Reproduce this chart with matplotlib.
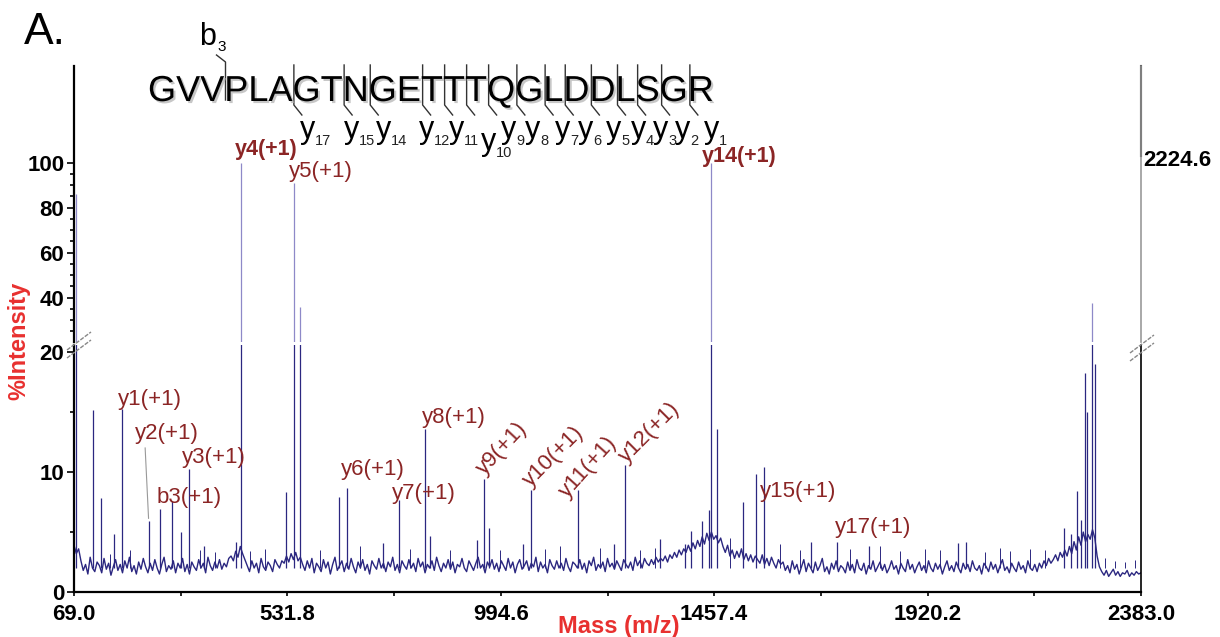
import matplotlib
matplotlib.use('Agg')
import matplotlib.pyplot as plt
import matplotlib.patheffects as pe
import numpy as np
from matplotlib.lines import Line2D
from matplotlib.transforms import blended_transform_factory
from matplotlib.font_manager import FontProperties

plt.rcParams['font.family'] = 'Liberation Sans'

# main peaks (m/z, % intensity)
peak_mz = [73.3, 109.6, 126.9, 155.7, 173.1, 231.0, 255.5, 280.9, 301.1, 317.8,
           350.9, 420.3, 431.2, 528.8, 546.8, 559.1, 644.4, 660.4, 739.8, 774.5,
           830.9, 841.1, 942.3, 958.8, 969.7, 1041.9, 1060.7, 1162.0, 1240.1, 1264.0,
           1339.9, 1394.1, 1406.5, 1431.6, 1445.5, 1449.4, 1464.1, 1519.2, 1548.1, 1565.4,
           1666.8, 1723.1, 1793.8, 1986.8, 2003.5, 2216.0, 2231.2, 2243.6, 2253.0, 2261.6,
           2264.9, 2276.2, 2283.4]
peak_int = [86.0, 15.2, 7.8, 4.8, 15.3, 5.9, 6.9, 7.6, 5.0, 10.3,
            3.8, 4.2, 100.0, 8.3, 91.0, 36.0, 7.9, 8.7, 4.1, 7.7,
            13.6, 4.7, 4.3, 9.4, 5.3, 4.0, 8.5, 8.5, 4.0, 10.6,
            4.4, 4.0, 5.1, 5.9, 6.8, 100.0, 13.6, 7.5, 9.8, 10.4,
            4.2, 4.2, 3.8, 4.1, 4.2, 5.3, 4.8, 8.4, 6.0, 18.3,
            15.0, 37.6, 19.0]

# small noise spikes
spike_mz = [147.1, 190.4, 342.3, 374.8, 450.7, 483.2, 602.5, 689.2, 797.7, 884.4,
            992.9, 1090.5, 1123.0, 1209.8, 1296.5, 1329.0, 1491.7, 1600.1, 1643.5, 1751.9,
            1817.0, 1860.4, 1914.6, 1947.1, 2044.7, 2077.3, 2099.0, 2142.3, 2174.9, 2305.0,
            2326.7, 2348.4, 2370.1]
spike_int = [3.2, 3.5, 3.5, 3.3, 3.4, 3.6, 3.5, 3.8, 3.6, 3.5,
             3.5, 3.6, 3.8, 3.7, 3.5, 3.7, 4.5, 4.0, 3.5, 3.6,
             3.8, 3.4, 3.6, 3.5, 3.3, 3.7, 3.4, 3.6, 3.5, 2.8,
             2.6, 2.5, 2.7]

# baseline level, read every ~5 m/z from 69 to 2383
base_int = [3.9, 3.2, 3.6,
            2.6, 1.8, 2.3, 1.5, 2.9, 2.0, 1.7, 2.5, 2.2, 1.6,
            2.8, 1.9, 2.4, 1.4, 2.1, 2.7, 1.8, 2.3, 1.6, 2.6,
            2.0, 2.9, 1.7, 2.2, 1.5, 2.5, 1.9, 2.8, 2.1, 1.6,
            2.4, 1.8, 2.7, 2.0, 1.5, 2.3, 2.9, 1.7, 2.2, 1.9,
            2.6, 1.6, 2.4, 2.0, 2.8, 1.7, 2.3, 1.5, 2.5, 2.1,
            1.8, 2.7, 2.0, 2.4, 1.6, 2.9, 2.2, 1.8, 2.5, 2.0,
            2.7, 1.9, 2.4, 2.1, 2.8,
            3.0, 2.6, 3.4, 2.9, 3.8, 3.2, 2.7,
            2.2, 1.7, 2.6, 2.0, 2.4, 1.6, 2.8, 2.1, 1.8, 2.5,
            2.2, 1.7, 2.7, 2.3, 2.0, 2.6, 2.4,
            3.0, 2.5, 3.2, 2.7, 3.3, 2.6, 2.9,
            2.3, 1.8, 2.6, 2.0, 2.8, 1.6, 2.4, 2.1, 1.7, 2.7,
            2.0, 2.5, 1.5, 2.3, 2.9, 1.8, 2.2, 2.6, 1.7, 2.4,
            1.9, 2.8, 2.1, 1.6, 2.5, 2.0, 2.7, 1.8, 2.3, 1.5,
            2.6, 2.2, 1.9, 2.8, 2.0, 2.4, 1.7, 2.5, 2.1, 2.9,
            1.8, 2.3, 1.6, 2.6, 2.2, 1.9, 2.7, 2.0, 2.4, 1.7,
            2.8, 2.1, 2.5, 1.6, 2.3, 2.0, 2.6, 1.8, 2.9, 2.2,
            1.7, 2.4, 2.0, 2.7, 1.9, 2.5, 1.6, 2.3, 2.1, 2.8,
            2.0, 1.7, 2.6, 2.2, 1.8, 2.4, 2.9, 2.0, 2.3, 1.6,
            2.5, 2.1, 2.7, 1.9, 2.4, 1.7, 2.6, 2.2, 1.8, 2.8,
            2.0, 2.5, 1.6, 2.3, 2.7, 1.9, 2.2, 2.6, 1.8, 2.4,
            2.1, 2.9, 1.7, 2.5, 2.0, 2.3, 1.6, 2.7, 2.2, 1.9,
            2.6, 2.0, 2.4, 1.8, 2.8, 2.1, 1.7, 2.5, 2.3, 2.0,
            2.7, 1.9, 2.4, 1.6, 2.6, 2.2, 2.9, 1.8, 2.3, 2.0,
            2.5, 1.7, 2.8, 2.1, 2.4, 1.9, 2.6, 2.2, 1.8, 2.7,
            2.3, 2.0, 2.5, 1.8, 2.9, 2.2, 2.6, 2.0, 2.8, 2.4,
            2.2, 2.7, 2.3, 2.9, 2.5, 2.8,
            2.6, 3.0, 2.5, 3.1, 2.8, 3.3, 2.9, 3.5, 3.1, 3.6,
            3.3, 3.9, 3.4, 4.1, 3.6, 4.3, 3.8,
            4.6, 4.0, 4.9, 4.3, 5.0, 4.4, 4.7, 4.1, 4.5,
            3.8, 3.3, 3.9, 3.0, 3.5, 2.8, 3.4, 2.9, 3.6, 2.7,
            3.2, 2.6, 3.1, 2.5, 3.0, 2.7, 2.4, 3.1, 2.3, 2.8,
            2.2, 2.9, 2.4, 2.0, 2.7, 2.3,
            2.5, 1.8, 2.2, 1.6, 2.6, 1.9, 2.3, 1.5, 2.1, 2.7,
            1.7, 2.4, 2.0, 1.6, 2.5, 1.8, 2.2, 2.8, 1.7, 2.1,
            1.5, 2.4, 1.9, 2.6, 1.7, 2.2, 2.0, 1.6, 2.5, 1.8,
            2.3, 1.6, 2.7, 2.0, 1.8, 2.4, 1.5, 2.2, 1.9, 2.6,
            1.7, 2.1, 2.5, 1.8, 2.3, 1.6, 2.0, 2.6, 1.9, 2.2,
            1.5, 2.4, 2.0, 1.7, 2.7, 1.9, 2.3, 1.6, 2.1, 2.5,
            1.8, 2.2, 1.6, 2.6, 2.0, 1.7, 2.4, 1.9, 2.3, 1.5,
            2.1, 2.6, 1.8, 2.2, 1.7, 2.5, 2.0, 1.6, 2.4, 1.9,
            2.3, 1.7, 2.6, 2.0, 1.8, 2.2, 1.5, 2.4, 2.1, 1.7,
            2.5, 1.9, 2.3, 1.6, 2.2, 2.7, 1.8, 2.1, 1.6, 2.4,
            2.0, 1.7, 2.5, 1.9, 2.2, 1.6, 2.6, 2.0, 1.8, 2.3,
            1.7, 2.4, 2.0, 2.6, 2.2, 2.8, 2.4,
            2.7, 3.1, 2.6, 3.3, 2.9, 3.5, 3.0, 3.8, 3.2, 4.2,
            3.5, 4.6, 3.9, 5.0, 4.2, 4.8, 4.4, 5.2, 4.5,
            3.0, 2.1, 1.7, 1.4, 1.8, 1.3, 1.6, 1.9, 1.4, 1.7,
            1.3, 1.6, 1.5, 1.8, 1.3, 1.6, 1.4, 1.7, 1.5, 1.6]
base_mz = np.linspace(69, 2383, len(base_int))

x_ticks = np.linspace(69.0, 2383.0, 6)

seq = 'GVVPLAGTNGETTTQGLDDLSGR'
y_ions = [17, 15, 14, 12, 11, 10, 9, 8, 7, 6, 5, 4, 3, 2, 1]
# left edge (px) of each y-ion label under the sequence
y_lab_x = [300, 344, 376, 419, 449, 481, 501, 525, 555, 578, 606, 631, 653, 675, 704]

# peak annotations: text, left x px, y px, bold
labels = [('y1(+1)', 118, 399, False), ('y2(+1)', 135, 433, False),
          ('y3(+1)', 182, 458, False), ('b3(+1)', 157, 497, False),
          ('y4(+1)', 235, 150, True), ('y5(+1)', 289, 172, False),
          ('y6(+1)', 341, 469, False), ('y7(+1)', 392, 493, False),
          ('y8(+1)', 422, 418, False), ('y14(+1)', 702, 157, True),
          ('y15(+1)', 760, 492, False), ('y17(+1)', 835, 527, False)]
rot_labels = [('y9(+1)', 484, 476, 47), ('y10(+1)', 530, 487, 45),
              ('y11(+1)', 567, 499, 48), ('y12(+1)', 626, 463, 45)]

W, H = 1220, 637
blue = '#2b2780'
pale = '#8e89c8'
red_lab = '#8b2525'
red_ax = '#e8302f'
shadow = [pe.withSimplePatchShadow(offset=(1.5, -1.5), shadow_rgbFace='#b0b0b0', alpha=0.7)]


def px(x, y):
    return x / W, 1 - y / H


def line(xs, ys, **kw):
    fig.add_artist(Line2D([x / W for x in xs], [1 - y / H for y in ys],
                          transform=fig.transFigure, **kw))


fig = plt.figure(figsize=(12.2, 6.37), dpi=100)
L, R = 74, 1141
ax_top = fig.add_axes([L / W, 1 - 342 / H, (R - L) / W, 276 / H])
ax_bot = fig.add_axes([L / W, 1 - 592 / H, (R - L) / W, 247 / H])

for ax, pc in ((ax_top, pale), (ax_bot, blue)):
    ax.plot(base_mz, base_int, color=blue, lw=1.0)
    ax.vlines(peak_mz, 2.0, peak_int, color=pc, lw=0.9)
    ax.vlines(spike_mz, 2.0, spike_int, color=blue, lw=0.7)
    ax.set_xlim(69, 2383)
    ax.spines['top'].set_visible(False)
    ax.spines['left'].set_linewidth(1.6)
    ax.spines['right'].set_linewidth(1.2)
    ax.tick_params(axis='y', which='both', direction='out', width=1.2, labelsize=16, pad=2)
    ax.tick_params(axis='y', which='major', length=5)
    ax.tick_params(axis='y', which='minor', length=3)

ax_top.spines['bottom'].set_visible(False)
ax_top.spines['right'].set_color('#999999')
ax_top.set_xticks([])
ax_top.set_ylim(20.3, 143)
ax_top.set_yticks([40, 60, 80, 100])
ax_top.set_yticks([25, 30, 35, 45, 50, 55, 65, 70, 75, 85, 90, 95], minor=True)

ax_bot.set_ylim(0, 20.6)
ax_bot.set_yticks([0, 10, 20])
ax_bot.set_yticks([5, 15], minor=True)
ax_bot.spines['bottom'].set_linewidth(1.6)
ax_bot.set_xticks(x_ticks)
ax_bot.set_xticklabels(['%.1f' % v for v in x_ticks])
ax_bot.set_xticks((x_ticks[:-1] + x_ticks[1:]) / 2, minor=True)
ax_bot.tick_params(axis='x', which='both', direction='out', length=3, width=1.2,
                   labelsize=16, pad=6)

for ax in (ax_top, ax_bot):
    for t in ax.get_xticklabels() + ax.get_yticklabels():
        t.set_fontweight('bold')

# black marker on the right edge and the base peak count
bt = blended_transform_factory(ax_top.transAxes, ax_top.transData)
ax_top.plot([1, 1], [103, 143], transform=bt, color='k', lw=1.5, clip_on=False)
ax_top.text(1.002, 101, '2224.6', transform=bt, fontsize=16, fontweight='bold',
            ha='left', va='center')

# axis break marks
for x0, y0 in [(67, 350), (1130, 353)]:
    for dy in (0, 8):
        line([x0, x0 + 24], [y0 + dy, y0 + dy - 18], color='#888888', lw=1,
             ls=(0, (3, 1)))

# axis titles
fig.text(*px(19, 341), '%Intensity', rotation=90, color=red_ax, fontsize=17,
         fontweight='bold', ha='center', va='center')
fig.text(*px(619, 626), 'Mass (m/z)', color=red_ax, fontsize=17,
         fontweight='bold', ha='center', va='center')
fig.text(*px(24, 44), 'A.', fontsize=32, ha='left', va='baseline')

# peak labels
for txt, x, y, bold in labels:
    fig.text(*px(x, y), txt, color=red_lab, fontsize=15.5 if bold else 16,
             fontweight='bold' if bold else 'normal', ha='left', va='center')
for txt, x, y, rot in rot_labels:
    fig.text(*px(x, y), txt, color=red_lab, fontsize=16, rotation=rot,
             rotation_mode='anchor', ha='left', va='baseline')
# leader for y2
ax_bot.annotate('', xy=(peak_mz[5], peak_int[5]), xycoords='data',
                xytext=px(145, 445), textcoords='figure fraction',
                arrowprops=dict(arrowstyle='-', color='#999999', lw=0.8))

# peptide sequence with fragment marks
seq_fp = FontProperties(family='Liberation Sans', size=26)
renderer = fig.canvas.get_renderer()


def text_w(s):
    w, h, d = renderer.get_text_width_height_descent(s, seq_fp, ismath=False)
    return w


seq_left, seq_base = 148, 101
fig.text(*px(seq_left, seq_base), seq, fontproperties=seq_fp, ha='left',
         va='baseline', path_effects=shadow)
for n, lx in zip(y_ions, y_lab_x):
    bx = seq_left + text_w(seq[:len(seq) - n]) + 1
    line([bx, bx, bx + 8], [65, 105, 115], color='#333333', lw=1)
    yb = 150 if n == 10 else 138
    fig.text(*px(lx, yb), 'y', fontsize=22, ha='left', va='baseline')
    fig.text(*px(lx + 15, yb + 7), str(n), fontsize=10.5, ha='left', va='baseline',
             color='#222222')
bx = seq_left + text_w(seq[:3]) + 1
line([bx, bx, bx - 9], [100, 62, 55], color='#333333', lw=1)
fig.text(*px(199, 45), 'b', fontsize=22, ha='left', va='baseline')
fig.text(*px(217, 51), '3', fontsize=11, ha='left', va='baseline')

fig.savefig('out.png', dpi=100)
